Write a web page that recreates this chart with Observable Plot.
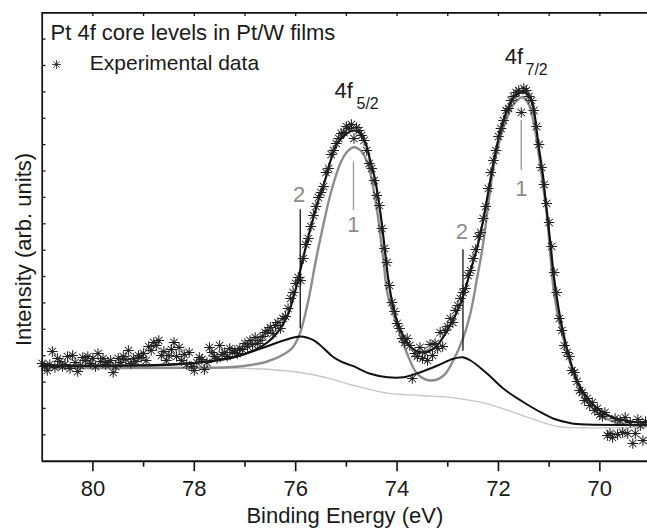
<!DOCTYPE html>
<html><head><meta charset="utf-8">
<script src="https://cdn.jsdelivr.net/npm/d3@7"></script>
<script src="https://cdn.jsdelivr.net/npm/@observablehq/plot@0.6"></script>
<style>html,body{margin:0;padding:0;background:#fff;} #chart{width:647px;height:529px;overflow:hidden;}</style>
</head><body><div id="chart"></div>
<script>
// Experimental data (binding energy in eV, intensity in arb. units)
const expEnergy = [
81.00,80.95,80.90,80.85,80.80,80.75,80.70,80.65,80.60,80.55,
80.50,80.45,80.40,80.35,80.30,80.25,80.20,80.15,80.10,80.05,
80.00,79.95,79.90,79.85,79.80,79.75,79.70,79.65,79.60,79.55,
79.50,79.45,79.40,79.35,79.30,79.25,79.20,79.15,79.10,79.05,
79.00,78.95,78.90,78.85,78.80,78.75,78.70,78.65,78.60,78.55,
78.50,78.45,78.40,78.35,78.30,78.25,78.20,78.15,78.10,78.05,
78.00,77.95,77.90,77.85,77.80,77.75,77.70,77.65,77.60,77.55,
77.50,77.45,77.40,77.35,77.30,77.25,77.20,77.15,77.10,77.05,
77.00,76.95,76.90,76.85,76.80,76.75,76.70,76.65,76.60,76.55,
76.50,76.45,76.40,76.35,76.30,76.25,76.20,76.15,76.10,76.05,
76.00,75.95,75.90,75.85,75.80,75.75,75.70,75.65,75.60,75.55,
75.50,75.45,75.40,75.35,75.30,75.25,75.20,75.15,75.10,75.05,
75.00,74.95,74.90,74.85,74.80,74.75,74.70,74.65,74.60,74.55,
74.50,74.45,74.40,74.35,74.30,74.25,74.20,74.15,74.10,74.05,
74.00,73.95,73.90,73.85,73.80,73.75,73.70,73.65,73.60,73.55,
73.50,73.45,73.40,73.35,73.30,73.25,73.20,73.15,73.10,73.05,
73.00,72.95,72.90,72.85,72.80,72.75,72.70,72.65,72.60,72.55,
72.50,72.45,72.40,72.35,72.30,72.25,72.20,72.15,72.10,72.05,
72.00,71.95,71.90,71.85,71.80,71.75,71.70,71.65,71.60,71.55,
71.50,71.45,71.40,71.35,71.30,71.25,71.20,71.15,71.10,71.05,
71.00,70.95,70.90,70.85,70.80,70.75,70.70,70.65,70.60,70.55,
70.50,70.45,70.40,70.35,70.30,70.25,70.20,70.15,70.10,70.05,
70.00,69.95,69.90,69.85,69.80,69.75,69.70,69.65,69.60,69.55,
69.50,69.45,69.40,69.35,69.30,69.25,69.20,69.15,69.10];
const expIntensity = [
9.77,9.47,9.07,9.67,10.97,9.37,10.27,9.97,9.47,9.67,
10.47,9.27,10.57,9.87,8.97,9.57,10.37,10.07,10.47,9.77,
10.27,9.47,10.77,9.97,10.27,9.67,9.87,10.07,8.87,9.47,
10.27,9.87,10.47,10.17,11.07,9.77,10.27,9.97,10.57,10.37,
10.77,10.07,11.47,11.07,11.87,11.57,12.07,10.57,10.97,10.07,
10.57,11.17,11.87,10.47,11.37,10.07,10.67,9.67,10.87,9.47,
9.07,9.87,10.37,10.17,9.17,9.87,11.37,10.87,10.47,10.27,
11.57,10.67,10.87,10.47,11.27,10.87,11.07,10.77,11.27,11.17,
11.77,11.47,12.07,11.67,12.37,11.77,12.07,12.47,12.87,13.07,
13.37,12.77,13.57,13.87,13.27,14.27,14.47,15.27,16.27,16.87,
17.77,18.37,18.07,20.27,21.67,22.27,23.47,24.57,25.47,26.37,
26.87,27.47,28.87,29.27,30.67,31.07,31.77,32.27,32.77,32.87,
33.47,33.27,33.67,32.27,33.37,33.07,32.57,32.07,31.07,29.77,
29.27,28.07,26.57,25.57,23.27,21.27,19.87,17.57,15.87,14.97,
13.77,13.27,12.27,11.87,12.27,11.57,8.27,10.77,10.47,11.37,
10.27,10.87,10.07,11.67,10.57,11.77,11.27,12.87,11.47,13.07,
13.47,14.27,13.87,15.07,15.57,16.27,16.87,17.27,18.57,19.07,
20.27,21.17,22.47,22.87,24.27,25.47,27.27,28.87,30.07,31.07,
32.47,33.27,34.07,35.07,35.27,36.07,36.47,36.87,37.07,34.87,
37.27,37.07,36.47,36.07,35.07,33.47,31.67,29.37,27.67,25.77,
23.87,21.47,18.87,16.87,14.27,13.07,11.57,10.87,10.47,9.07,
8.87,7.97,7.07,6.87,6.07,6.27,5.57,5.87,5.07,5.27,
4.67,4.47,4.87,2.57,2.77,2.37,4.27,2.67,4.07,2.87,
4.37,2.77,3.87,1.77,2.77,4.17,3.57,2.07,3.97];

// Total fit envelope
const envE = [81,79.85,78.53,77.88,77.23,76.83,76.56,76.36,76.16,76.04,75.91,75.77,75.65,75.51,75.41,75.31,75.18,75.02,74.86,74.72,74.62,74.53,74.43,74.33,74.25,74.17,74.07,73.93,73.73,73.54,73.28,73.01,72.75,72.55,72.41,72.29,72.09,71.96,71.83,71.66,71.50,71.37,71.30,71.21,71.13,71.07,70.97,70.91,70.78,70.64,70.51,70.38,70.12,69.79,69.40,69.06];
const envI = [9.57,9.57,9.62,9.87,10.37,11.07,11.87,12.87,14.57,16.47,19.07,22.07,24.37,26.77,28.27,30.07,31.77,32.67,33.07,32.77,31.77,30.07,28.07,24.87,21.57,18.07,15.27,13.07,11.4,10.9,11.24,13.07,15.74,19.07,21.57,24.4,30.07,33.07,35.07,36.57,36.9,36.37,35.07,31.57,28.87,26.07,21.57,18.57,14.27,11.07,8.87,7.37,5.57,4.47,3.97,3.87];
// Component 1 (+ background)
const comp1E = [81,77.88,77.23,76.89,76.56,76.24,76.06,75.91,75.75,75.61,75.47,75.31,75.12,74.98,74.85,74.72,74.58,74.46,74.38,74.33,74.26,74.19,73.99,73.80,73.60,73.34,73.08,72.89,72.69,72.55,72.43,72.31,72.19,72.09,71.96,71.83,71.69,71.53,71.41,71.30,71.23,71.17,71.10,71.04,70.97,70.91,70.78,70.64,70.51,70.38,70.26,70.12,69.79,69.40,69.06];
const comp1I = [9.32,9.34,9.42,9.62,9.97,10.67,11.37,12.87,16.07,19.87,23.27,26.77,29.77,30.97,31.4,31.07,29.77,27.07,24.57,22.6,19.7,16.77,13.4,10.74,8.74,8.07,8.57,10.07,12.4,14.87,18.07,21.47,26.07,29.57,32.37,34.37,35.77,36.4,35.77,33.77,31.57,29.37,26.87,24.37,20.27,17.07,13.4,10.87,8.57,7.07,6.07,5.17,4.07,3.62,3.57];
// Component 2 (+ background)
const comp2E = [81,79.85,78.53,77.88,77.23,76.70,76.24,75.91,75.65,75.45,75.28,75.10,74.86,74.53,74.19,73.87,73.54,73.20,72.89,72.71,72.55,72.22,71.90,71.56,71.23,70.91,70.57,70.25,69.06];
const comp2I = [9.52,9.52,9.67,9.9,10.4,11.24,12.07,12.47,12.1,11.3,10.5,9.95,9.5,8.74,8.4,8.4,8.9,9.57,10.24,10.4,10.07,8.74,7.24,6.07,5.07,4.24,3.8,3.67,3.64];
// Shirley background
const bgE = [81,78.86,77.23,76.50,75.91,75.31,74.86,74.19,73.54,72.89,72.36,71.90,71.43,71.04,70.72,70.25,69.06];
const bgI = [9.32,9.32,9.3,9.17,8.87,8.24,7.57,6.8,6.57,6.34,5.9,5.24,4.4,3.74,3.4,3.34,3.37];

// Component markers
const markerLabels = ["1","1","2","2"];
const markerEnergy = [74.86,71.55,75.91,72.70];
const markerTop = [29.9,34.07,25.14,21.14];
const markerBottom = [25.07,29.07,13.24,11.0];
const markerLabelEnergy = [74.86,71.55,75.93,72.72];
const markerLabelY = [22.9,26.57,25.9,22.24];

// Peak labels
const peakMain = ["4f","4f"];
const peakSub = ["5/2","7/2"];
const peakMainE = [75.235,71.876];
const peakMainY = [36.34,39.74];
const peakSubE = [74.80,71.467];
const peakSubY = [35.24,38.67];

// Axis ticks
const xMajorTicks = [80,78,76,74,72,70];
const xMinorTicks = [79,77,75,73,71];
const xTopTicks = [80,79,78,77,76,75,74,73,72,71,70];
const yTicks = [2.64,5.28,7.91,10.55,13.19,15.83,18.47,21.10,23.74,26.38,29.02,31.66,34.29,36.93,39.57,42.21];

const xLabel = "Binding Energy (eV)";
const yLabel = "Intensity (arb. units)";
const titleText = "Pt 4f core levels in Pt/W films";
const legendText = "Experimental data";

const X0 = 81, X1 = 69.06, Y0 = 0, Y1 = 44.84;
const tbl = (E, I) => E.map((e, i) => ({e, v: I[i]}));
const expData = tbl(expEnergy, expIntensity);
const markers = markerLabels.map((l, i) => ({l, e: markerEnergy[i], y1: markerBottom[i], y2: markerTop[i], le: markerLabelEnergy[i], ly: markerLabelY[i], c: l === "1" ? "#9a9a9a" : "#111"}));
const peaks = peakMain.map((m, i) => ({m, s: peakSub[i], me: peakMainE[i], my: peakMainY[i], se: peakSubE[i], sy: peakSubY[i]}));

const asterisk8 = {
  draw(ctx, size) {
    const r = Math.sqrt(size / Math.PI), d = r * Math.SQRT1_2;
    ctx.moveTo(0, -r); ctx.lineTo(0, r);
    ctx.moveTo(-r, 0); ctx.lineTo(r, 0);
    ctx.moveTo(-d, -d); ctx.lineTo(d, d);
    ctx.moveTo(-d, d); ctx.lineTo(d, -d);
  }
};

const FONT = "'Liberation Sans', Arial, Helvetica, sans-serif";
const TXT = "#1a1a1a";

const chart = Plot.plot({
  width: 647, height: 529,
  marginLeft: 41.7, marginRight: 0, marginTop: 12.3, marginBottom: 68.3,
  x: {domain: [X0, X1], axis: null},
  y: {domain: [Y0, Y1], axis: null},
  style: {fontFamily: FONT, background: "#fff"},
  marks: [
    Plot.line(tbl(bgE, bgI), {x: "e", y: "v", stroke: "#c6c6c6", strokeWidth: 1.3, curve: "catmull-rom"}),
    Plot.line(tbl(comp1E, comp1I), {x: "e", y: "v", stroke: "#8c8c8c", strokeWidth: 2.4, curve: "catmull-rom"}),
    Plot.line(tbl(comp2E, comp2I), {x: "e", y: "v", stroke: "#111", strokeWidth: 2, curve: "catmull-rom"}),
    Plot.line(tbl(envE, envI), {x: "e", y: "v", stroke: "#111", strokeWidth: 2.2, curve: "catmull-rom"}),
    Plot.dot(expData, {x: "e", y: "v", symbol: asterisk8, r: 5.3, fill: "none", stroke: "#222", strokeWidth: 1.05}),
    // component markers
    Plot.ruleX(markers, {x: "e", y1: "y1", y2: "y2", stroke: "c", strokeWidth: 1.3}),
    Plot.text(markers, {x: "le", y: "ly", text: "l", fill: "#8c8c8c", fontSize: 22, textAnchor: "middle", lineAnchor: "bottom"}),
    // peak labels
    Plot.text(peaks, {x: "me", y: "my", text: "m", fill: TXT, fontSize: 22, textAnchor: "start", lineAnchor: "bottom"}),
    Plot.text(peaks, {x: "se", y: "sy", text: "s", fill: TXT, fontSize: 16, textAnchor: "start", lineAnchor: "bottom"}),
    // frame
    Plot.ruleY([Y1], {stroke: "#111", strokeWidth: 1.7}),
    Plot.ruleY([Y0], {stroke: "#111", strokeWidth: 2}),
    Plot.ruleX([X0], {y1: Y0, y2: Y1, stroke: "#111", strokeWidth: 1.7}),
    // ticks
    Plot.link(yTicks, {x1: () => X0, x2: () => X0 - 0.065, y1: d => d, y2: d => d, stroke: "#111", strokeWidth: 1.3}),
    Plot.link(xTopTicks, {x1: d => d, x2: d => d, y1: () => Y1, y2: () => Y1 - 0.32, stroke: "#111", strokeWidth: 1.3}),
    Plot.link(xMajorTicks, {x1: d => d, x2: d => d, y1: () => Y0, y2: () => Y0 - 1.0, stroke: "#111", strokeWidth: 1.6}),
    Plot.link(xMinorTicks, {x1: d => d, x2: d => d, y1: () => Y0, y2: () => Y0 - 0.55, stroke: "#111", strokeWidth: 1.6}),
    Plot.text(xMajorTicks, {x: d => d, y: () => Y0, text: d => String(d), dy: 34.3, fill: TXT, fontSize: 22, textAnchor: "middle", lineAnchor: "bottom"}),
    // titles & legend
    Plot.text([xLabel], {frameAnchor: "bottom", dy: 61.5, text: d => d, fill: TXT, fontSize: 22, textAnchor: "middle", lineAnchor: "bottom"}),
    Plot.text([yLabel], {frameAnchor: "left", dx: -11, dy: 12.5, rotate: -90, text: d => d, fill: TXT, fontSize: 22, textAnchor: "middle", lineAnchor: "bottom"}),
    Plot.text([titleText], {frameAnchor: "top-left", dx: 8.3, dy: 26.7, text: d => d, fill: TXT, fontSize: 22, textAnchor: "start", lineAnchor: "bottom"}),
    Plot.dot([legendText], {frameAnchor: "top-left", dx: 14.3, dy: 51.7, symbol: asterisk8, r: 4.3, fill: "none", stroke: "#2a2a2a", strokeWidth: 0.9}),
    Plot.text([legendText], {frameAnchor: "top-left", dx: 47.6, dy: 56.7, text: d => d, fill: TXT, fontSize: 21, textAnchor: "start", lineAnchor: "bottom"})
  ]
});
document.getElementById("chart").append(chart);
</script></body></html>
